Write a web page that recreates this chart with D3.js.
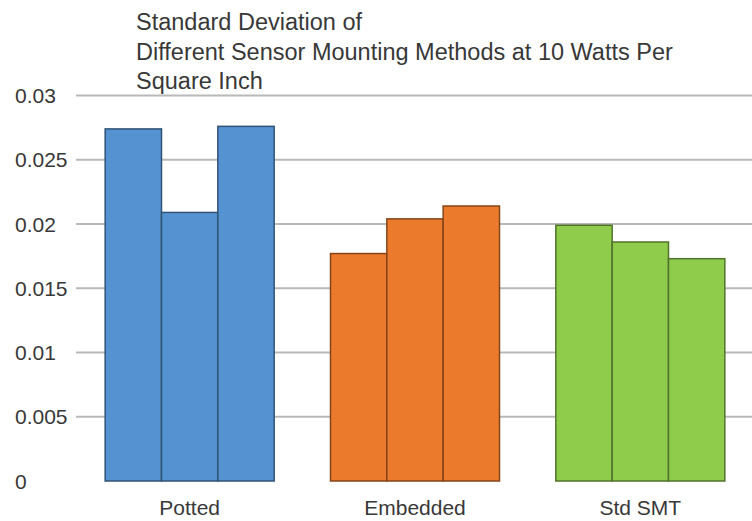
<!DOCTYPE html>
<html>
<head>
<meta charset="utf-8">
<script src="https://cdn.jsdelivr.net/npm/d3@7"></script>
<style>
  body { margin: 0; background: #fff; }
  svg text { font-family: "Liberation Sans", Arial, sans-serif; fill: #383838; }
  .grid line { stroke: #b9b9b9; stroke-width: 2px; }
</style>
</head>
<body>
<div id="chart"></div>
<script>
var categories = ["Potted", "Embedded", "Std SMT"];
var runs = ["Run 1", "Run 2", "Run 3"];
var values = [
  [0.0274, 0.0209, 0.0276],
  [0.0177, 0.0204, 0.0214],
  [0.0199, 0.0186, 0.0173]
];
var colors = ["#5592d1", "#ec7a2c", "#8fcc4c"];
var yTicks = [0, 0.005, 0.01, 0.015, 0.02, 0.025, 0.03];
var titleLines = ["Standard Deviation of",
  "Different Sensor Mounting Methods at 10 Watts Per",
  "Square Inch"];

var width = 752, height = 521;

var svg = d3.select("#chart").append("svg")
  .attr("width", width)
  .attr("height", height);

var x = d3.scaleBand()
  .domain(categories)
  .range([77, 753])
  .paddingInner(0.25)
  .paddingOuter(0.125);

var xInner = d3.scaleBand()
  .domain(runs)
  .range([0, x.bandwidth()]);

var y = d3.scaleLinear()
  .domain([0, 0.03])
  .range([481, 95.5]);

// gridlines (no line at zero)
svg.append("g").attr("class", "grid")
  .selectAll("line")
  .data(yTicks.filter(function (d) { return d > 0; }))
  .enter().append("line")
  .attr("x1", 76).attr("x2", width)
  .attr("y1", function (d) { return y(d); })
  .attr("y2", function (d) { return y(d); });

// y tick labels
svg.append("g")
  .selectAll("text")
  .data(yTicks)
  .enter().append("text")
  .attr("x", 15)
  .attr("y", function (d) { return y(d); })
  .attr("dy", "0.36em")
  .style("font-size", "21px")
  .text(function (d) { return d3.format("")(d); });

// bars
var groups = svg.append("g")
  .selectAll("g")
  .data(categories)
  .enter().append("g")
  .attr("transform", function (d) { return "translate(" + x(d) + ",0)"; });

groups.selectAll("rect")
  .data(function (d, i) {
    return values[i].map(function (v, j) { return {run: runs[j], value: v, ci: i}; });
  })
  .enter().append("rect")
  .attr("x", function (d) { return xInner(d.run); })
  .attr("y", function (d) { return y(d.value); })
  .attr("width", xInner.bandwidth())
  .attr("height", function (d) { return y(0) - y(d.value); })
  .attr("fill", function (d) { return colors[d.ci]; })
  .attr("stroke", function (d) { return d3.color(colors[d.ci]).darker(1.6); })
  .attr("stroke-width", 1.5);

// category labels
svg.append("g")
  .selectAll("text")
  .data(categories)
  .enter().append("text")
  .attr("x", function (d) { return x(d) + x.bandwidth() / 2; })
  .attr("y", 515)
  .attr("text-anchor", "middle")
  .style("font-size", "21px")
  .text(function (d) { return d; });

// title
svg.append("g")
  .selectAll("text")
  .data(titleLines)
  .enter().append("text")
  .attr("x", 136)
  .attr("y", function (d, i) { return 30 + i * 29.5; })
  .style("font-size", "23.5px")
  .text(function (d) { return d; });
</script>
</body>
</html>
